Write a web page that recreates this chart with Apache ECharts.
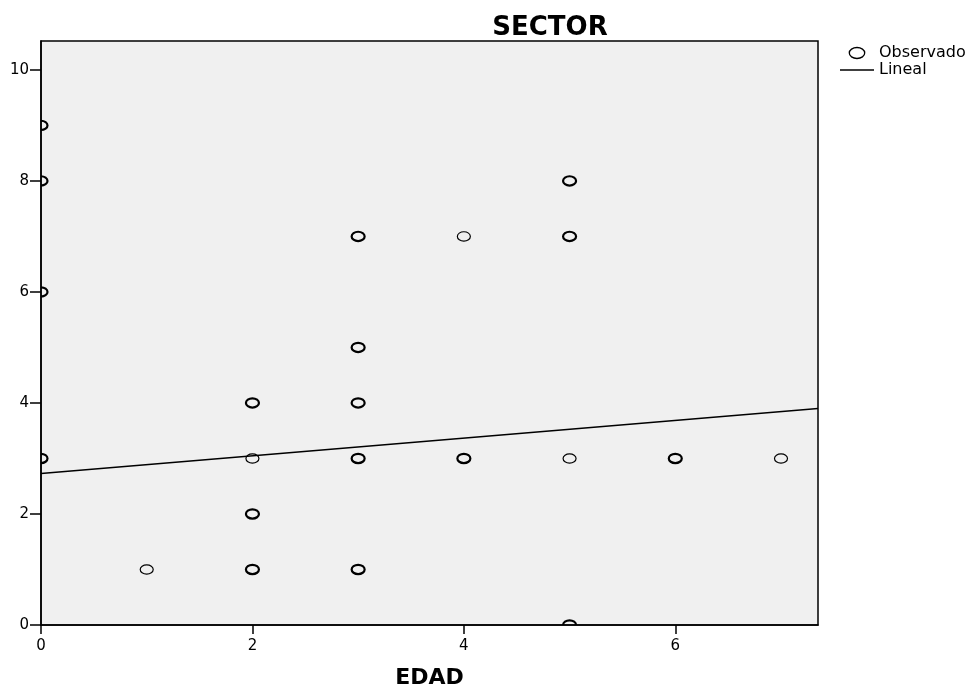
<!DOCTYPE html>
<html>
<head>
<meta charset="utf-8">
<script src="https://cdn.jsdelivr.net/npm/echarts@6/dist/echarts.min.js"></script>
<style>
  html, body { margin: 0; padding: 0; background: #fff; }
  #chart { width: 979px; height: 687px; }
</style>
</head>
<body>
<div id="chart"></div>
<script>
// observed points (EDAD, SECTOR); repetido = 1 where several cases overlap (bold ring)
const edad = [0, 0, 0, 0, 1, 2, 2, 2, 2, 3, 3, 3, 3, 3, 4, 4, 5, 5, 5, 5, 6, 7]
const sector = [9, 8, 6, 3, 1, 4, 3, 2, 1, 7, 5, 4, 3, 1, 7, 3, 8, 7, 3, 0, 3, 3]
const repetido = [1, 1, 1, 1, 0, 1, 0, 1, 1, 1, 1, 1, 1, 1, 0, 1, 1, 1, 0, 1, 1, 0]
// linear fit read at the plot edges
const linealX = [0, 7.35]
const linealY = [2.73, 3.9]
const xTicks = [0, 2, 4, 6]
const yTicks = [0, 2, 4, 6, 8, 10]

const FONT = 'DejaVu Sans, Verdana, sans-serif'
const RING = 'M0,5 A7,5 0 1,1 14,5 A7,5 0 1,1 0,5 Z'
const ELLIPSE = 'path://' + RING
const BAR = 'path://M0,0 H36 V1.4 H0 Z'

const chart = echarts.init(document.getElementById('chart'), null, { renderer: 'canvas' })
chart.setOption({
  animation: false,
  backgroundColor: '#fff',
  textStyle: { fontFamily: FONT, color: '#000' },
  title: {
    text: 'SECTOR', left: 545, top: 10, textAlign: 'center',
    textStyle: { fontFamily: FONT, fontSize: 26, fontWeight: 'bold', color: '#000' },
  },
  legend: {
    orient: 'vertical', left: 835, top: 40, itemGap: 1, itemWidth: 34, itemHeight: 11,
    textStyle: { fontFamily: FONT, fontSize: 16, lineHeight: 15, color: '#000' },
    data: [
      { name: 'Observado', icon: ELLIPSE, itemStyle: { color: 'transparent', borderColor: '#000', borderWidth: 1.3 } },
      { name: 'Lineal', icon: BAR, itemStyle: { color: '#000', borderWidth: 0 } },
    ],
  },
  grid: { left: 41, top: 41, right: 161, bottom: 62, containLabel: false, outerBoundsMode: 'none',
    show: true, backgroundColor: '#f0f0f0', borderColor: '#000', borderWidth: 1.5 },
  xAxis: {
    type: 'value', min: 0, max: 7.35, interval: 2, z: 50,
    name: 'EDAD', nameLocation: 'middle', nameGap: 42,
    nameTextStyle: { fontFamily: FONT, fontSize: 22, fontWeight: 'bold', color: '#000' },
    axisLine: { lineStyle: { color: '#000', width: 1.5 } },
    axisTick: { length: 9, customValues: xTicks, lineStyle: { color: '#000', width: 1.5 } },
    axisLabel: { fontFamily: FONT, fontSize: 15, color: '#000', margin: 14, customValues: xTicks },
    splitLine: { show: false },
  },
  yAxis: {
    type: 'value', min: 0, max: 10.52, interval: 2, z: 50,
    axisLine: { lineStyle: { color: '#000', width: 1.5 } },
    axisTick: { length: 11, customValues: yTicks, lineStyle: { color: '#000', width: 1.5 } },
    axisLabel: { fontFamily: FONT, fontSize: 15, color: '#000', margin: 12, customValues: yTicks },
    splitLine: { show: false },
  },
  series: [
    {
      // custom rings so that markers on the axes are cut at the plot edge
      name: 'Observado', type: 'custom', clip: true, z: 2,
      encode: { x: 0, y: 1 },
      itemStyle: { color: 'transparent', borderColor: '#000' },
      data: edad.map((x, i) => [x, sector[i], repetido[i]]),
      renderItem: (params, api) => {
        const p = api.coord([api.value(0), api.value(1)])
        return {
          type: 'path',
          shape: { pathData: RING, x: p[0] - 6.5, y: p[1] - 5, width: 13, height: 10 },
          style: { fill: 'none', stroke: '#000', lineWidth: api.value(2) ? 2.2 : 1.2 },
        }
      },
    },
    {
      name: 'Lineal', type: 'line', showSymbol: false, symbol: 'none', z: 3,
      lineStyle: { color: '#000', width: 1.4 },
      itemStyle: { color: '#000' },
      data: linealX.map((x, i) => [x, linealY[i]]),
    },
  ],
})
</script>
</body>
</html>
